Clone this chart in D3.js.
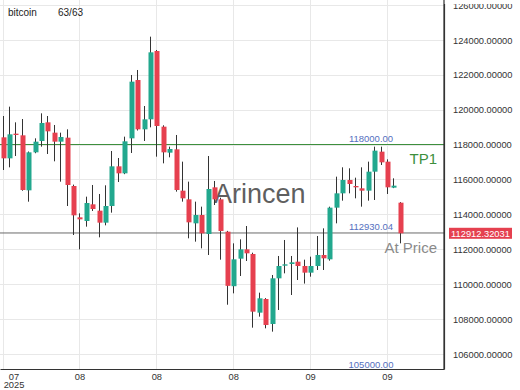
<!DOCTYPE html>
<html>
<head>
<meta charset="utf-8">
<script src="https://cdn.jsdelivr.net/npm/d3@7"></script>
<style>
  body { margin: 0; background: #fff; }
  svg { display: block; font-family: "Liberation Sans", Arial, sans-serif; }
</style>
</head>
<body>
<div id="chart"></div>
<script>
// daily bitcoin candles
const opens  = [118411, 117207, 118621, 118526, 115374, 117551, 118201, 119270, 118678, 118162,
                118392, 115622, 113827, 113617, 114572, 114209, 113521, 114476, 116749, 116348,
                118353, 121696, 118869, 119442, 123358, 119022, 117532, 117723, 115355, 114858,
                113483, 113960, 112872, 115546, 114858, 113005, 109880, 111458, 111993, 111726,
                108364, 109147, 107715, 110332, 111057, 111153, 111286, 111038, 110656, 111038,
                111669, 111420, 114381, 115202, 115966, 115622, 115489, 115355, 116443, 117590,
                117017, 115527, 114667];
const highs  = [119633, 120168, 119270, 119461, 117600, 118353, 119786, 119633, 119118, 118678,
                118869, 115700, 114056, 115011, 115680, 115164, 115661, 117628, 117227, 118449,
                121983, 122269, 120206, 124179, 123415, 119100, 117876, 118545, 117017, 115871,
                114725, 114438, 117341, 115909, 114950, 113050, 112337, 112566, 113330, 111800,
                109510, 109200, 110523, 111611, 112528, 111611, 113250, 111400, 111573, 112757,
                113196, 114438, 116157, 116692, 116635, 116100, 116692, 117017, 117876, 117876,
                117150, 116062, 114700];
const lows   = [116539, 116692, 117341, 115350, 114724, 117500, 117876, 117456, 117036, 115870,
                114476, 112814, 111993, 113292, 114190, 112681, 113368, 114094, 115851, 116300,
                117513, 118800, 118201, 118984, 117303, 116921, 117265, 115298, 114725, 112624,
                112433, 112050, 111669, 114533, 111400, 108820, 109472, 110465, 111325, 107505,
                108135, 107466, 107276, 108517, 110618, 109376, 110236, 110030, 110427, 110809,
                110809, 111344, 113483, 114782, 115202, 114916, 114438, 114782, 114820, 116826,
                115164, 115500, 112337];
const closes = [117207, 118583, 118545, 115393, 117551, 118162, 119232, 118755, 118162, 118430,
                115680, 113941, 113712, 114648, 114304, 113521, 114476, 116749, 116348, 118182,
                121601, 118869, 119442, 123281, 119060, 117551, 117742, 115393, 114915, 113540,
                113960, 112910, 115450, 114858, 113044, 109900, 111420, 111993, 111764, 108421,
                109186, 107658, 110332, 111038, 111134, 111248, 111038, 110656, 111038, 111669,
                111478, 114381, 115202, 115966, 115737, 115546, 115355, 116443, 117647, 116978,
                115546, 115641, 112912.32031];

const tickIdx = [0, 12, 24, 36, 48, 60];
const tickLabels = ["07", "08", "08", "08", "09", "09"];
const yearLabel = "2025";
const priceTicks = [106000, 108000, 110000, 112000, 114000, 116000, 118000, 120000, 122000, 124000, 126000];

const tpPrice = 118000;
const atPrice = 112930.04;
const floorPrice = 105000;
const lastPrice = closes[closes.length - 1];

const width = 520;
const height = 390;
const plot = { left: 0, top: 0, right: 444, bottom: 369 };

const svg = d3.select("#chart")
    .append("svg")
    .attr("width", width)
    .attr("height", height);

const x = d3.scaleLinear().domain([-0.4, 68.9]).range([plot.left, plot.right]);
const y = d3.scaleLinear().domain([105136, 126280]).range([plot.bottom, plot.top]);

svg.append("clipPath").attr("id", "clip")
    .append("rect")
    .attr("x", plot.left).attr("y", plot.top)
    .attr("width", plot.right - plot.left).attr("height", plot.bottom - plot.top);

// the price scale area is cut a little below the top edge
svg.append("clipPath").attr("id", "yclip")
    .append("rect")
    .attr("x", plot.right - 5).attr("y", 4)
    .attr("width", width - plot.right + 5).attr("height", height);

// grid
const grid = svg.append("g").attr("stroke", "#e8e8e8").attr("shape-rendering", "crispEdges");
grid.selectAll(".h").data(priceTicks).join("line")
    .attr("x1", plot.left).attr("x2", plot.right)
    .attr("y1", d => Math.round(y(d)) + 0.5).attr("y2", d => Math.round(y(d)) + 0.5);
grid.selectAll(".v").data(tickIdx).join("line")
    .attr("x1", d => Math.round(x(d)) + 0.5).attr("x2", d => Math.round(x(d)) + 0.5)
    .attr("y1", plot.top).attr("y2", plot.bottom);

// watermark
svg.append("text")
    .attr("x", 214).attr("y", 203)
    .attr("font-size", 27)
    .attr("fill", "#5f5f5f")
    .text("Arincen");

// level lines
const levels = svg.append("g").attr("clip-path", "url(#clip)");
levels.append("line")
    .attr("x1", plot.left).attr("x2", plot.right)
    .attr("y1", y(tpPrice)).attr("y2", y(tpPrice))
    .attr("stroke", "#3d8f3d").attr("stroke-width", 1.2);
levels.append("line")
    .attr("x1", plot.left).attr("x2", plot.right)
    .attr("y1", y(atPrice)).attr("y2", y(atPrice))
    .attr("stroke", "#6a6a6a").attr("stroke-width", 1);

// candles
const candles = d3.range(opens.length).map(i => ({
    i, o: opens[i], h: highs[i], l: lows[i], c: closes[i]
}));
const cg = svg.append("g").attr("clip-path", "url(#clip)");
cg.selectAll(".wick").data(candles).join("line")
    .attr("x1", d => Math.round(x(d.i)) + 0.5).attr("x2", d => Math.round(x(d.i)) + 0.5)
    .attr("y1", d => y(d.h)).attr("y2", d => y(d.l))
    .attr("stroke", "#333").attr("stroke-width", 1);
cg.selectAll(".body").data(candles).join("rect")
    .attr("x", d => Math.round(x(d.i)) - 1.5)
    .attr("width", 5)
    .attr("y", d => y(Math.max(d.o, d.c)))
    .attr("height", d => Math.max(1, Math.abs(y(d.o) - y(d.c))))
    .attr("fill", d => d.c >= d.o ? "#22a88e" : "#e6404f");

// level labels
const lab = svg.append("g").attr("font-size", 9.5).attr("fill", "#5570c0").attr("text-anchor", "middle");
[tpPrice, atPrice, floorPrice].forEach(p => {
    lab.append("text")
        .attr("x", 371).attr("y", y(p) - 3)
        .text(d3.format(".2f")(p));
});
svg.append("text")
    .attr("x", 437).attr("y", 164)
    .attr("text-anchor", "end").attr("font-size", 15)
    .attr("fill", "#3d8f3d")
    .text("TP1");
svg.append("text")
    .attr("x", 437).attr("y", 253)
    .attr("text-anchor", "end").attr("font-size", 15)
    .attr("fill", "#8a8a8a")
    .text("At Price");

// axes
const yAxis = svg.append("g")
    .attr("clip-path", "url(#yclip)")
    .append("g")
    .attr("transform", `translate(${plot.right},0)`)
    .call(d3.axisRight(y).tickValues(priceTicks).tickSize(0).tickPadding(9)
        .tickFormat(d3.format(".5f")));
svg.append("line")
    .attr("x1", plot.right).attr("x2", plot.right)
    .attr("y1", plot.top).attr("y2", plot.bottom)
    .attr("stroke", "#333").attr("stroke-width", 1.2);
const xAxis = svg.append("g")
    .attr("transform", `translate(0,${plot.bottom})`)
    .call(d3.axisBottom(x).tickValues(tickIdx).tickSize(0).tickPadding(4)
        .tickFormat((d, i) => tickLabels[i]));

[yAxis, xAxis].forEach(a => {
    a.select(".domain").attr("stroke", "#333").attr("stroke-width", 1.2);
    a.selectAll("text").attr("font-family", null).attr("font-size", 9.3).attr("fill", "#333");
});
yAxis.selectAll("text").attr("dy", "0.35em");

const first = xAxis.selectAll(".tick").filter((d, i) => i === 0);
first.attr("transform", `translate(${Math.max(14, x(tickIdx[0]))},0)`);
first.select("text")
    .append("tspan").attr("x", 0).attr("dy", "0.92em").text(yearLabel);

// last price tag
svg.append("rect")
    .attr("x", 449).attr("y", y(lastPrice) - 5.5)
    .attr("width", 63).attr("height", 11)
    .attr("fill", "#e5404f");
svg.append("text")
    .attr("x", 480.5).attr("y", y(lastPrice))
    .attr("dy", "0.35em")
    .attr("text-anchor", "middle").attr("font-size", 9.3).attr("fill", "#fff")
    .text(d3.format(".5f")(lastPrice));

// header
svg.append("text").attr("x", 8).attr("y", 16).attr("font-size", 10).attr("fill", "#222").text("bitcoin");
svg.append("text").attr("x", 58).attr("y", 16).attr("font-size", 10).attr("fill", "#222")
    .text(`${opens.length}/${opens.length}`);
</script>
</body>
</html>
